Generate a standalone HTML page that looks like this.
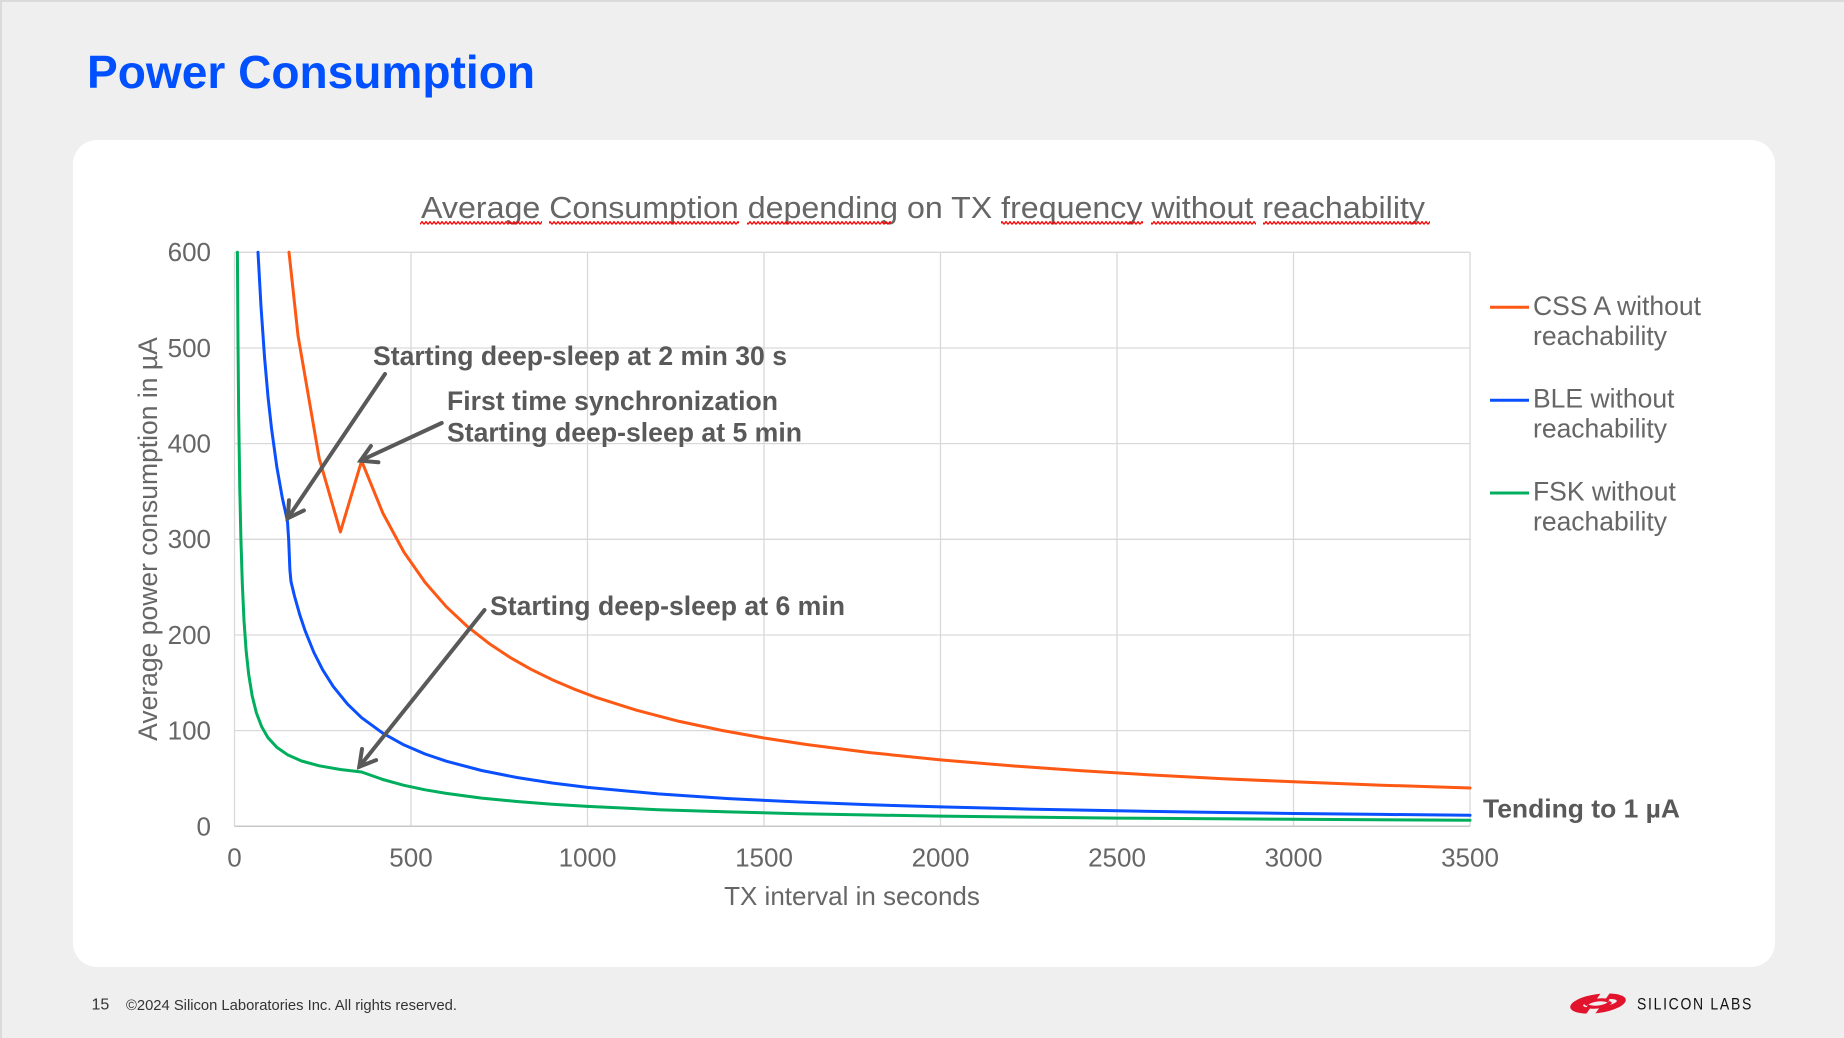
<!DOCTYPE html>
<html>
<head>
<meta charset="utf-8">
<style>
html,body{margin:0;padding:0;background:#efefef;}
svg{display:block;}
</style>
</head>
<body>
<svg width="1844" height="1038" viewBox="0 0 1844 1038" xmlns="http://www.w3.org/2000/svg" font-family="'Liberation Sans', Arial, sans-serif">
  <defs>
    <pattern id="wv" x="0" y="221" width="4" height="4" patternUnits="userSpaceOnUse">
      <path d="M0,3.4 L2,0.6 L4,3.4" stroke="#ff0000" stroke-width="1.3" fill="none"/>
    </pattern>
  </defs>
  <!-- page background -->
  <rect x="0" y="0" width="1844" height="1038" fill="#efefef"/>
  <rect x="0" y="0" width="1844" height="2" fill="#dadada"/>
  <rect x="0" y="0" width="2" height="1038" fill="#dadada"/>

  <!-- slide title -->
  <text x="87" y="88" font-size="46" font-weight="bold" fill="#0050ff" textLength="448" lengthAdjust="spacingAndGlyphs">Power Consumption</text>

  <!-- card -->
  <rect x="73" y="140" width="1702" height="827" rx="24" ry="24" fill="#ffffff"/>

  <!-- chart title -->
  <text x="421" y="218" font-size="31" fill="#666666" textLength="1004" lengthAdjust="spacingAndGlyphs">Average Consumption depending on TX frequency without reachability</text>
  <rect x="420" y="221" width="122" height="4" fill="url(#wv)"/>
  <rect x="549" y="221" width="190" height="4" fill="url(#wv)"/>
  <rect x="747" y="221" width="144" height="4" fill="url(#wv)"/>
  <rect x="1001" y="221" width="142" height="4" fill="url(#wv)"/>
  <rect x="1151" y="221" width="105" height="4" fill="url(#wv)"/>
  <rect x="1263" y="221" width="167" height="4" fill="url(#wv)"/>

  <!-- grid -->
  <g stroke="#d9d9d9" stroke-width="1.3" fill="none">
    <line x1="234.5" y1="252.3" x2="1470" y2="252.3"/>
    <line x1="234.5" y1="348" x2="1470" y2="348"/>
    <line x1="234.5" y1="443.6" x2="1470" y2="443.6"/>
    <line x1="234.5" y1="539.3" x2="1470" y2="539.3"/>
    <line x1="234.5" y1="635" x2="1470" y2="635"/>
    <line x1="234.5" y1="730.6" x2="1470" y2="730.6"/>
    <line x1="234.5" y1="252.3" x2="234.5" y2="826.3"/>
    <line x1="411" y1="252.3" x2="411" y2="826.3"/>
    <line x1="587.5" y1="252.3" x2="587.5" y2="826.3"/>
    <line x1="764" y1="252.3" x2="764" y2="826.3"/>
    <line x1="940.5" y1="252.3" x2="940.5" y2="826.3"/>
    <line x1="1117" y1="252.3" x2="1117" y2="826.3"/>
    <line x1="1293.5" y1="252.3" x2="1293.5" y2="826.3"/>
    <line x1="1470" y1="252.3" x2="1470" y2="826.3"/>
  </g>
  <line x1="234.5" y1="826.3" x2="1470" y2="826.3" stroke="#c8c8c8" stroke-width="1.5"/>

  <!-- y tick labels -->
  <g font-size="26" fill="#666666" text-anchor="end">
    <text x="211" y="261">600</text>
    <text x="211" y="357">500</text>
    <text x="211" y="452.5">400</text>
    <text x="211" y="548">300</text>
    <text x="211" y="644">200</text>
    <text x="211" y="739.5">100</text>
    <text x="211" y="835.3">0</text>
  </g>
  <!-- x tick labels -->
  <g font-size="26" fill="#666666" text-anchor="middle">
    <text x="234.5" y="866.7">0</text>
    <text x="411" y="866.7">500</text>
    <text x="587.5" y="866.7">1000</text>
    <text x="764" y="866.7">1500</text>
    <text x="940.5" y="866.7">2000</text>
    <text x="1117" y="866.7">2500</text>
    <text x="1293.5" y="866.7">3000</text>
    <text x="1470" y="866.7">3500</text>
  </g>

  <!-- axis titles -->
  <text x="852" y="905" font-size="26" fill="#666666" text-anchor="middle">TX interval in seconds</text>
  <text transform="translate(157,539) rotate(-90)" font-size="26.5" fill="#666666" text-anchor="middle">Average power consumption in µA</text>

  <!-- series -->
  <g fill="none" stroke-width="3" stroke-linejoin="round" stroke-linecap="round">
    <polyline stroke="#00ae5e" points="237.4,252.3 238.0,342.2 238.7,415.9 239.8,489.5 240.9,538.6 242.3,583.3 244.0,620.5 246.1,650.3 248.6,673.7 252.15,695.8 256.4,712.9 261.7,726.8 268.0,737.7 276.9,747.4 287.45,754.7 301.6,761.0 319.2,765.8 340.4,769.5 361.6,772.0 382.8,779.5 403.9,785.3 425.1,789.8 446.3,793.4 481.6,798.1 516.9,801.5 552.2,804.2 587.5,806.4 658.1,809.7 728.7,811.9 799.3,813.7 869.9,815.0 940.5,816.1 1117.0,818.1 1293.5,819.3 1470,820.3"/>
    <polyline stroke="#0a50ff" points="258.0,252.3 261.0,306.4 264.5,356.9 268.0,396.8 271.6,429.1 276.9,467.4 282.2,497.3 287.45,521.1 288.7,540.2 289.9,569.9 291.0,581.6 294.5,596.1 299.8,614.9 305.1,630.7 313.9,652.5 322.75,669.9 333.3,686.6 347.5,704.1 361.6,717.7 382.8,733.2 403.9,744.9 425.1,754.0 446.3,761.2 481.6,770.5 516.9,777.5 552.2,783.0 587.5,787.4 658.1,793.9 728.7,798.6 799.3,802.0 869.9,804.8 940.5,806.9 1028.75,809.1 1117.0,810.8 1205.25,812.2 1293.5,813.5 1381.75,814.4 1470,815.3"/>
    <polyline stroke="#fe5815" points="289.0,252.3 298.04,335.7 319.2,458.4 340.4,531.9 361.6,460.9 382.8,513.0 403.94,552.1 425.1,582.4 446.3,606.7 467.5,626.6 488.7,643.2 509.8,657.3 531.0,669.3 552.2,679.7 573.4,688.8 594.6,696.9 636.9,710.3 679.3,721.4 721.6,730.4 764.0,738.0 806.4,744.5 869.9,752.6 940.5,759.9 1011.1,765.8 1081.7,770.8 1152.3,775.0 1222.9,778.7 1293.5,781.8 1381.75,785.2 1470,788.0"/>
  </g>

  <!-- annotation arrows -->
  <g stroke="#595959" stroke-width="4" fill="none" stroke-linecap="round" stroke-linejoin="miter">
    <line x1="385" y1="374" x2="287.7" y2="518.3"/>
    <polyline points="303.9,510.4 287.7,518.3 289,500.3"/>
    <line x1="441.7" y1="423" x2="360.5" y2="460.7"/>
    <polyline points="378.4,462.3 360.5,460.7 370.9,446"/>
    <line x1="484.5" y1="610" x2="359.3" y2="766.7"/>
    <polyline points="376.1,760.1 359.3,766.7 362,749"/>
  </g>

  <!-- annotations -->
  <g font-size="26.5" font-weight="bold" fill="#595959">
    <text x="373" y="365" textLength="414" lengthAdjust="spacingAndGlyphs">Starting deep-sleep at 2 min 30 s</text>
    <text x="447" y="410" textLength="331" lengthAdjust="spacingAndGlyphs">First time synchronization</text>
    <text x="447" y="441.5" textLength="355" lengthAdjust="spacingAndGlyphs">Starting deep-sleep at 5 min</text>
    <text x="490" y="615" textLength="355" lengthAdjust="spacingAndGlyphs">Starting deep-sleep at 6 min</text>
    <text x="1483" y="817.3" font-size="26" textLength="197" lengthAdjust="spacingAndGlyphs">Tending to 1 µA</text>
  </g>

  <!-- legend -->
  <g stroke-width="3">
    <line x1="1490" y1="307.3" x2="1529" y2="307.3" stroke="#fe5815"/>
    <line x1="1490" y1="400.3" x2="1529" y2="400.3" stroke="#0a50ff"/>
    <line x1="1490" y1="493" x2="1529" y2="493" stroke="#00ae5e"/>
  </g>
  <g font-size="26.5" fill="#666666">
    <text x="1533" y="315">CSS A without</text>
    <text x="1533" y="345">reachability</text>
    <text x="1533" y="407.7">BLE without</text>
    <text x="1533" y="437.7">reachability</text>
    <text x="1533" y="500.3">FSK without</text>
    <text x="1533" y="530.3">reachability</text>
  </g>

  <!-- footer -->
  <text x="91.5" y="1009.3" font-size="16" fill="#333333">15</text>
  <text x="126" y="1010" font-size="14.5" fill="#333333" textLength="331" lengthAdjust="spacingAndGlyphs">©2024 Silicon Laboratories Inc. All rights reserved.</text>

  <!-- logo -->
  <g transform="translate(1598,1003.5) rotate(-8)">
    <ellipse cx="0" cy="0" rx="28" ry="9.5" fill="#e2142d"/>
    <ellipse cx="2" cy="0" rx="17" ry="3.6" fill="#efefef"/>
    <polygon points="-4,-10 6,-10 4,10 -6,10" fill="#efefef" transform="skewX(-40)"/>
    <path d="M-14,-1.5 C-8,-6 6,-6 12,-2.5 L10,0.5 C4,-3 -6,-3 -12,1 Z" fill="#e2142d"/>
    <path d="M14,1.5 C8,6 -6,6 -12,2.5 L-10,-0.5 C-4,3 6,3 12,-1 Z" fill="#e2142d"/>
  </g>
  <text x="1637" y="1009.5" font-size="16.5" fill="#111111" textLength="116" lengthAdjust="spacingAndGlyphs" letter-spacing="2">SILICON LABS</text>
</svg>
</body>
</html>
